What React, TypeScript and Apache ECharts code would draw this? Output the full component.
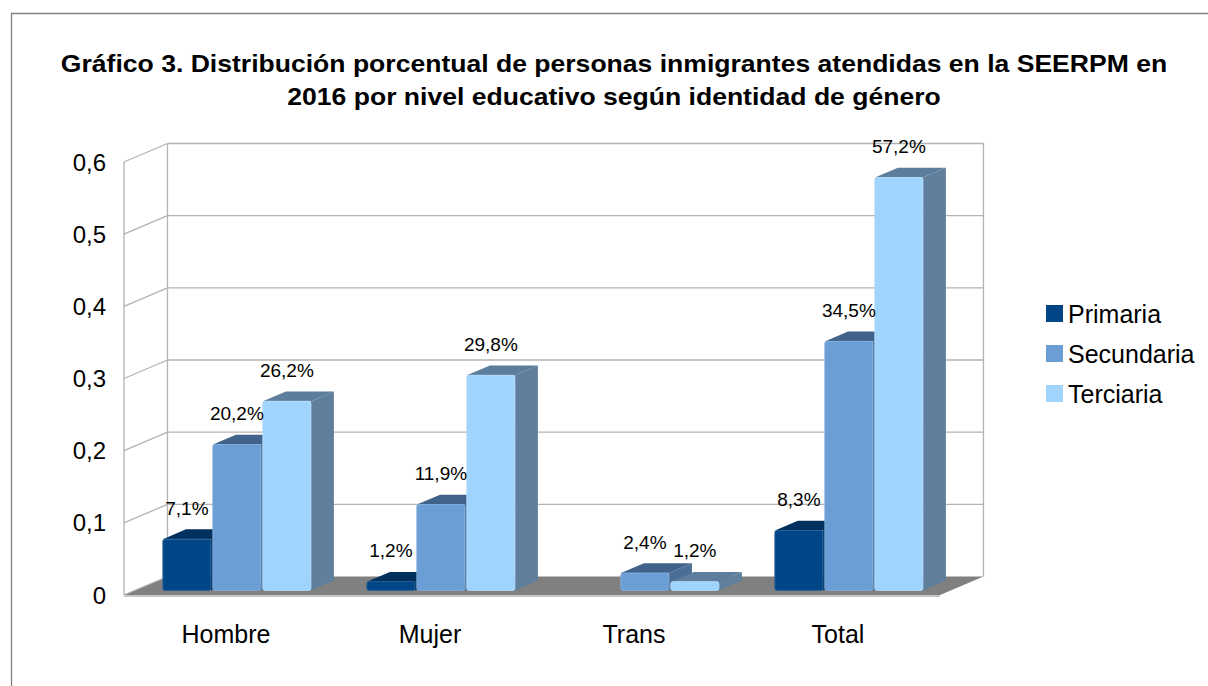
import React, { useEffect, useRef } from "react";
import * as echarts from "echarts";

const categories = ["Hombre", "Mujer", "Trans", "Total"];
const seriesNames = ["Primaria", "Secundaria", "Terciaria"];
const primaria = [0.071, 0.012, 0, 0.083];
const secundaria = [0.202, 0.119, 0.024, 0.345];
const terciaria = [0.262, 0.298, 0.012, 0.572];
const seriesValues = [primaria, secundaria, terciaria];
const yTicks = [0, 0.1, 0.2, 0.3, 0.4, 0.5, 0.6];
const titleLines = [
  "Gráfico 3. Distribución porcentual de personas inmigrantes atendidas en la SEERPM en",
  "2016 por nivel educativo según identidad de género",
];

const FRONT = ["#004586", "#6a9ed5", "#a1d4fc"];
const TOP = ["#00305e", "#41638b", "#5d7d9c"];
const SIDE = ["#003463", "#4a6e95", "#5f7f9d"];
const FONT = "'Liberation Sans', Arial, sans-serif";

// depth geometry (pixels) of the pseudo-3D box
const DX = 43.5;
const DY = -18.5;
const D0 = 0.25; // bar front depth fraction
const BD = 0.53; // bar depth fraction

const fmtPct = (v: number) => (v * 100).toFixed(1).replace(".", ",") + "%";

export default function App() {
  const ref = useRef<HTMLDivElement>(null);
  useEffect(() => {
    if (!ref.current) return;
    const chart = echarts.init(ref.current, null, { renderer: "svg" });

    const frameItem = (params: any, api: any) => {
      const cs = params.coordSys;
      const L = cs.x;
      const R = cs.x + cs.width;
      const y0 = api.coord([0, 0])[1];
      const yTop = api.coord([0, yTicks[yTicks.length - 1]])[1];
      const gridColor = "#b3b3b3";
      const children: any[] = [];
      children.push({
        type: "polygon",
        shape: { points: [[L, y0], [R, y0], [R + DX, y0 + DY], [L + DX, y0 + DY]] },
        style: { fill: "#808080" },
      });
      yTicks.forEach((t) => {
        const y = api.coord([0, t])[1];
        if (t > 0) {
          children.push({
            type: "line",
            shape: { x1: L + DX, y1: y + DY, x2: R + DX, y2: y + DY },
            style: { stroke: gridColor, lineWidth: 1.3 },
          });
        }
        children.push({
          type: "line",
          shape: { x1: L, y1: y, x2: L + DX, y2: y + DY },
          style: { stroke: gridColor, lineWidth: 1.3 },
        });
      });
      children.push({
        type: "line",
        shape: { x1: L, y1: y0, x2: L, y2: yTop },
        style: { stroke: gridColor, lineWidth: 1.3 },
      });
      children.push({
        type: "line",
        shape: { x1: L + DX, y1: y0 + DY, x2: L + DX, y2: yTop + DY },
        style: { stroke: gridColor, lineWidth: 1.3 },
      });
      children.push({
        type: "line",
        shape: { x1: R + DX, y1: y0 + DY, x2: R + DX, y2: yTop + DY },
        style: { stroke: gridColor, lineWidth: 1.3 },
      });
      children.push({
        type: "line",
        shape: { x1: L, y1: y0 + 1, x2: R, y2: y0 + 1 },
        style: { stroke: gridColor, lineWidth: 1.5 },
      });
      return { type: "group", children };
    };

    const barItem = (si: number) => (params: any, api: any) => {
      const idx = api.value(0);
      const val = api.value(1);
      if (!(val > 0)) return { type: "group", children: [] };
      const c = api.coord([idx, 0]);
      const band = api.size([1, 0])[0];
      const bw = band * 0.245;
      const x0 = c[0] - 1.5 * bw + si * bw + DX * D0 + 1;
      const x1 = x0 + bw - 2;
      const base = c[1] + DY * D0;
      const top = api.coord([idx, val])[1] + DY * D0;
      const bdx = DX * BD;
      const bdy = DY * BD;
      const children: any[] = [
        {
          type: "polygon",
          shape: { points: [[x1, top], [x1 + bdx, top + bdy], [x1 + bdx, base + bdy], [x1, base]] },
          style: { fill: SIDE[si] },
        },
        {
          type: "polygon",
          shape: { points: [[x0, top], [x0 + bdx, top + bdy], [x1 + bdx, top + bdy], [x1, top]] },
          style: { fill: TOP[si] },
        },
        {
          type: "rect",
          shape: { x: x0, y: top, width: x1 - x0, height: base - top, r: 2 },
          style: { fill: FRONT[si], stroke: echarts.color.lift(FRONT[si], 0.15), lineWidth: 1 },
        },
        {
          type: "text",
          z2: 100,
          style: {
            x: (x0 + x1) / 2,
            y: top - 31,
            text: fmtPct(val),
            align: "center",
            verticalAlign: "middle",
            fill: "#000",
            font: `19px ${FONT}`,
          },
        },
      ];
      return { type: "group", children };
    };

    const option: any = {
      animation: false,
      textStyle: { fontFamily: FONT },
      legend: {
        orient: "vertical",
        left: 1041,
        top: 296,
        itemWidth: 17,
        itemHeight: 17,
        itemGap: 15,
        icon: "rect",
        data: seriesNames,
        textStyle: { fontSize: 25, color: "#000", lineHeight: 25, padding: [0, 0, 0, 0] },
      },
      grid: { left: 124, right: 268, top: 162, bottom: 91, containLabel: false },
      xAxis: {
        type: "category",
        data: categories,
        axisLine: { show: false },
        axisTick: { show: false },
        axisLabel: { fontSize: 25, color: "#000", margin: 26 },
      },
      yAxis: {
        type: "value",
        min: 0,
        max: 0.6,
        interval: 0.1,
        splitLine: { show: false },
        axisLine: { show: false },
        axisTick: { show: false },
        axisLabel: {
          fontSize: 24,
          color: "#000",
          margin: 18,
          formatter: (v: number) => (Math.round(v * 10) / 10).toString().replace(".", ","),
        },
      },
      graphic: [
        {
          type: "polyline",
          shape: { points: [[11.5, 700], [11.5, 13.5], [1220, 13.5]] },
          style: { stroke: "#7f7f7f", lineWidth: 1.3, fill: null },
        },
        {
          type: "text",
          x: 614,
          y: 80.5,
          scaleX: 1.155,
          style: {
            text: titleLines.join("\n"),
            align: "center",
            verticalAlign: "middle",
            lineHeight: 33,
            fill: "#000",
            font: `bold 23px ${FONT}`,
          },
        },
      ],
      series: [
        {
          type: "custom",
          name: "frame",
          data: [[0, 0]],
          renderItem: frameItem,
          silent: true,
          z: 1,
        },
        ...seriesNames.map((name, si) => ({
          type: "custom",
          name,
          itemStyle: { color: FRONT[si] },
          data: categories.map((_, ci) => [ci, seriesValues[si][ci]]),
          encode: { x: 0, y: 1 },
          renderItem: barItem(si),
          z: 2,
        })),
      ],
    };
    chart.setOption(option);
    return () => chart.dispose();
  }, []);
  return (
    <div
      ref={ref}
      style={{ position: "fixed", left: 0, top: 0, width: 1208, height: 686, background: "#fff" }}
    />
  );
}
